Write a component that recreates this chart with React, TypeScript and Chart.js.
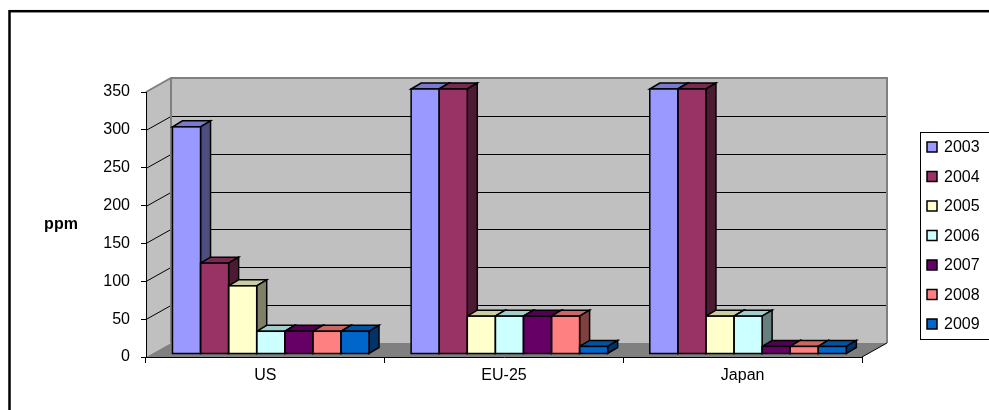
import React, { useEffect, useRef } from 'react';
import { Chart, registerables } from 'chart.js';

Chart.register(...registerables);

// ---------- data ----------
const categories = ['US', 'EU-25', 'Japan'];
const seriesNames = ['2003', '2004', '2005', '2006', '2007', '2008', '2009'];
const values2003 = [300, 350, 350];
const values2004 = [120, 350, 350];
const values2005 = [90, 50, 50];
const values2006 = [30, 50, 50];
const values2007 = [30, 50, 10];
const values2008 = [30, 50, 10];
const values2009 = [30, 10, 10];
const seriesValues = [values2003, values2004, values2005, values2006, values2007, values2008, values2009];
const seriesColors = ['#9999FF', '#993366', '#FFFFCC', '#CCFFFF', '#660066', '#FF8080', '#0066CC'];
const yTickValues = [0, 50, 100, 150, 200, 250, 300, 350];
const yAxisTitle = 'ppm';

// ---------- style ----------
const FONT = "'Liberation Sans', Arial, Helvetica, sans-serif";
const WALL_DX = 25;
const WALL_DY = 14;
const BAR_SHIFT_X = 5.4;
const BAR_SHIFT_Y = 3;
const BAR_DX = 10;
const BAR_DY = 6;

function shade(hex: string, f: number): string {
  const n = parseInt(hex.slice(1), 16);
  const r = Math.round(((n >> 16) & 255) * f);
  const g = Math.round(((n >> 8) & 255) * f);
  const b = Math.round((n & 255) * f);
  return `rgb(${r},${g},${b})`;
}

const scenePlugin: any = {
  id: 'scene3d',
  beforeDraw(chart: any) {
    const ctx = chart.ctx;
    const { left, right, top, bottom } = chart.chartArea;
    const yScale = chart.scales.y;
    ctx.save();
    // outer frame
    ctx.strokeStyle = '#000';
    ctx.lineWidth = 2.5;
    ctx.strokeRect(9.5, 11.2, 1200, 800);

    // back wall
    ctx.fillStyle = '#C0C0C0';
    ctx.fillRect(left + WALL_DX, top - WALL_DY, right - left, bottom - top);
    // left wall
    ctx.beginPath();
    ctx.moveTo(left, top);
    ctx.lineTo(left + WALL_DX, top - WALL_DY);
    ctx.lineTo(left + WALL_DX, bottom - WALL_DY);
    ctx.lineTo(left, bottom);
    ctx.closePath();
    ctx.fill();
    // floor
    ctx.fillStyle = '#808080';
    ctx.beginPath();
    ctx.moveTo(left, bottom);
    ctx.lineTo(right, bottom);
    ctx.lineTo(right + WALL_DX, bottom - WALL_DY);
    ctx.lineTo(left + WALL_DX, bottom - WALL_DY);
    ctx.closePath();
    ctx.fill();

    // grid lines
    ctx.strokeStyle = '#000';
    ctx.lineWidth = 1;
    yTickValues.forEach((v) => {
      if (v === yTickValues[0] || v === yTickValues[yTickValues.length - 1]) return;
      const py = Math.round(yScale.getPixelForValue(v)) + 0.5;
      ctx.beginPath();
      ctx.moveTo(left, py);
      ctx.lineTo(left + WALL_DX, py - WALL_DY);
      ctx.lineTo(right + WALL_DX, py - WALL_DY);
      ctx.stroke();
    });

    // wall outlines
    ctx.strokeStyle = '#808080';
    ctx.lineWidth = 2;
    ctx.beginPath();
    ctx.moveTo(left, top);
    ctx.lineTo(left + WALL_DX, top - WALL_DY);
    ctx.lineTo(right + WALL_DX, top - WALL_DY);
    ctx.lineTo(right + WALL_DX, bottom - WALL_DY);
    ctx.stroke();
    ctx.beginPath();
    ctx.moveTo(left + WALL_DX, top - WALL_DY);
    ctx.lineTo(left + WALL_DX, bottom - WALL_DY);
    ctx.stroke();
    // floor right edge
    ctx.strokeStyle = '#000';
    ctx.lineWidth = 1;
    ctx.beginPath();
    ctx.moveTo(right, bottom);
    ctx.lineTo(right + WALL_DX, bottom - WALL_DY);
    ctx.stroke();

    // y axis title (horizontal)
    ctx.fillStyle = '#000';
    ctx.font = `bold 16px ${FONT}`;
    ctx.textAlign = 'center';
    ctx.textBaseline = 'middle';
    ctx.fillText(yAxisTitle, 61, (top + bottom) / 2);
    ctx.restore();
  },
  beforeDatasetsDraw(chart: any) {
    const ctx = chart.ctx;
    ctx.save();
    ctx.translate(BAR_SHIFT_X, -BAR_SHIFT_Y);
    ctx.strokeStyle = '#000';
    ctx.lineWidth = 1.5;
    ctx.lineJoin = 'miter';
    chart.data.datasets.forEach((ds: any, di: number) => {
      const meta = chart.getDatasetMeta(di);
      const color = ds.backgroundColor as string;
      meta.data.forEach((el: any) => {
        const { x, y, base, width } = el.getProps(['x', 'y', 'base', 'width'], true);
        const x1 = x - width / 2;
        const x2 = x + width / 2;
        // top face
        ctx.beginPath();
        ctx.moveTo(x1, y);
        ctx.lineTo(x1 + BAR_DX, y - BAR_DY);
        ctx.lineTo(x2 + BAR_DX, y - BAR_DY);
        ctx.lineTo(x2, y);
        ctx.closePath();
        ctx.fillStyle = shade(color, 0.8);
        ctx.fill();
        ctx.stroke();
        // side face
        ctx.beginPath();
        ctx.moveTo(x2, y);
        ctx.lineTo(x2 + BAR_DX, y - BAR_DY);
        ctx.lineTo(x2 + BAR_DX, base - BAR_DY);
        ctx.lineTo(x2, base);
        ctx.closePath();
        ctx.fillStyle = shade(color, 0.5);
        ctx.fill();
        ctx.stroke();
      });
    });
  },
  afterDatasetsDraw(chart: any) {
    const ctx = chart.ctx;
    ctx.strokeStyle = '#000';
    ctx.lineWidth = 1.5;
    chart.data.datasets.forEach((_ds: any, di: number) => {
      const meta = chart.getDatasetMeta(di);
      meta.data.forEach((el: any) => {
        const { x, y, base, width } = el.getProps(['x', 'y', 'base', 'width'], true);
        ctx.strokeRect(x - width / 2, y, width, base - y);
      });
    });
    ctx.restore();
  },
  afterDraw(chart: any) {
    const ctx = chart.ctx;
    ctx.save();
    // legend box
    ctx.strokeStyle = '#000';
    ctx.lineWidth = 1;
    ctx.strokeRect(920.5, 132.5, 100, 207);
    ctx.font = `16px ${FONT}`;
    ctx.textAlign = 'left';
    ctx.textBaseline = 'middle';
    chart.data.datasets.forEach((ds: any, i: number) => {
      const cy = 147 + i * 29.5;
      ctx.fillStyle = ds.backgroundColor;
      ctx.fillRect(927, cy - 5, 10, 10);
      ctx.lineWidth = 1.5;
      ctx.strokeRect(927, cy - 5, 10, 10);
      ctx.fillStyle = '#000';
      ctx.fillText(ds.label, 944, cy + 1);
    });
    ctx.restore();
  },
};

export default function App() {
  const canvasRef = useRef<HTMLCanvasElement | null>(null);

  useEffect(() => {
    const canvas = canvasRef.current;
    if (!canvas) return;
    const chart = new Chart(canvas, {
      type: 'bar',
      data: {
        labels: categories,
        datasets: seriesNames.map((name, i) => ({
          label: name,
          data: seriesValues[i],
          backgroundColor: seriesColors[i],
          borderWidth: 0,
          categoryPercentage: 7 / 8.5,
          barPercentage: 1,
          clip: false as any,
        })),
      },
      options: {
        responsive: false,
        animation: false,
        devicePixelRatio: 1,
        layout: { padding: { left: 46, right: 127, top: 92, bottom: 13 } },
        plugins: {
          legend: { display: false },
          title: { display: false },
          tooltip: { enabled: false },
        },
        scales: {
          x: {
            grid: { offset: true, drawOnChartArea: false, drawTicks: true, tickLength: 6, color: '#000' },
            border: { display: true, color: '#000', width: 1 },
            ticks: { font: { size: 16, family: FONT }, color: '#000', padding: 3 },
            afterFit: (s: any) => {
              s.height = 40;
            },
          },
          y: {
            min: 0,
            max: 350,
            afterBuildTicks: (s: any) => {
              s.ticks = yTickValues.map((v) => ({ value: v }));
            },
            grid: { drawOnChartArea: false, drawTicks: true, tickLength: 5, color: '#000' },
            border: { display: true, color: '#000', width: 1 },
            ticks: { font: { size: 16, family: FONT }, color: '#000', padding: 11 },
            afterFit: (s: any) => {
              s.width = 100;
            },
          },
        },
      },
      plugins: [scenePlugin],
    });
    return () => chart.destroy();
  }, []);

  return (
    <div style={{ position: 'absolute', left: 0, top: 0, width: 989, height: 410 }}>
      <canvas ref={canvasRef} width={989} height={410} style={{ display: 'block' }} />
    </div>
  );
}
